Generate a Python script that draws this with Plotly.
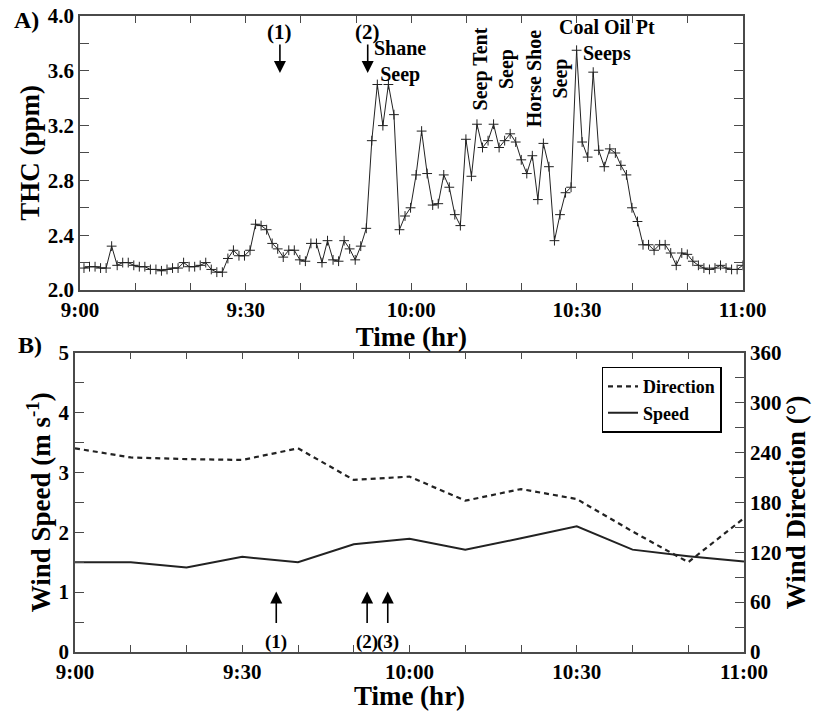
import pandas as pd
import plotly.graph_objects as go

# ---------------- data ----------------
thc_start = "2024-01-01 09:00:43"
thc_end = "2024-01-01 11:00:00"
thc_ppm = [
    2.16, 2.17, 2.17, 2.16, 2.16, 2.32, 2.18, 2.20, 2.20, 2.18,
    2.17, 2.17, 2.15, 2.15, 2.14, 2.15, 2.16, 2.16, 2.20, 2.17,
    2.17, 2.18, 2.20, 2.15, 2.13, 2.13, 2.23, 2.29, 2.25, 2.25,
    2.29, 2.48, 2.47, 2.44, 2.34, 2.30, 2.24, 2.29, 2.29, 2.22,
    2.21, 2.34, 2.34, 2.20, 2.36, 2.22, 2.21, 2.36, 2.30, 2.22,
    2.32, 2.45, 3.09, 3.50, 3.20, 3.50, 3.28, 2.44, 2.54, 2.60,
    2.84, 3.16, 2.85, 2.62, 2.63, 2.84, 2.75, 2.55, 2.47, 3.10,
    2.83, 3.21, 3.04, 3.09, 3.21, 3.04, 3.09, 3.14, 3.08, 2.95,
    2.85, 2.98, 2.66, 3.07, 2.90, 2.36, 2.55, 2.71, 2.75, 3.75,
    3.08, 2.97, 3.59, 3.02, 2.90, 3.03, 3.00, 2.91, 2.84, 2.60,
    2.50, 2.33, 2.33, 2.29, 2.33, 2.33, 2.27, 2.18, 2.27, 2.26,
    2.21, 2.18, 2.16, 2.15, 2.16, 2.18, 2.16, 2.15, 2.15, 2.18,
]
thc_time = pd.date_range(thc_start, thc_end, periods=len(thc_ppm))

wind_time = ["2024-01-01 09:00", "2024-01-01 09:10", "2024-01-01 09:20",
             "2024-01-01 09:30", "2024-01-01 09:40", "2024-01-01 09:50",
             "2024-01-01 10:00", "2024-01-01 10:10", "2024-01-01 10:20",
             "2024-01-01 10:30", "2024-01-01 10:40", "2024-01-01 10:50",
             "2024-01-01 11:00"]
wind_speed = [1.50, 1.50, 1.41, 1.59, 1.50, 1.80, 1.89, 1.71, 1.90, 2.10, 1.71, 1.60, 1.51]
wind_dir = [245, 234, 232, 231, 245, 207, 211, 182, 196, 184, 145, 108, 161]

seep_labels = ["Shane<br>Seep", "Seep Tent<br>Seep", "Horse Shoe<br>Seep", "Coal Oil Pt<br>Seeps"]
seep_x = ["2024-01-01 09:58:00", "2024-01-01 10:14:48", "2024-01-01 10:24:36", "2024-01-01 10:35:24"]
seep_y = [3.67, 3.61, 3.54, 3.82]
seep_angle = [0, -90, -90, 0]

top_marks = ["(1)", "(2)"]
top_mark_x = ["2024-01-01 09:36:12", "2024-01-01 09:52:06"]
bot_marks = ["(1)", "(2)", "(3)"]
bot_mark_x = ["2024-01-01 09:36:06", "2024-01-01 09:52:24", "2024-01-01 09:56:06"]

# ---------------- figure ----------------
FONT = "Liberation Serif"
AX = "#4a4a4a"

fig = go.Figure()
fig.add_trace(go.Scatter(
    x=thc_time, y=thc_ppm, mode="lines+markers", xaxis="x", yaxis="y",
    line=dict(color="#222", width=1),
    marker=dict(symbol="cross-thin", size=7, line=dict(color="#222", width=1)),
    showlegend=False))
fig.add_trace(go.Scatter(
    x=wind_time, y=wind_dir, mode="lines", name="Direction", xaxis="x2", yaxis="y3",
    line=dict(color="#222", width=2.2, dash="5px,4px")))
fig.add_trace(go.Scatter(
    x=wind_time, y=wind_speed, mode="lines", name="Speed", xaxis="x2", yaxis="y2",
    line=dict(color="#222", width=2)))

tickfont = dict(family=FONT, size=21, color="black", weight="bold")
titlefont = dict(family=FONT, size=27, color="black", weight="bold")

common_x = dict(
    type="date", range=["2024-01-01 09:00", "2024-01-01 11:00"],
    tick0="2024-01-01 09:00", dtick=1800000, tickformat="%-H:%M",
    ticks="inside", ticklen=7, tickwidth=1.2, tickcolor=AX,
    minor=dict(dtick=600000, ticks="inside", ticklen=7, tickwidth=1.2, tickcolor=AX),
    showline=True, linecolor=AX, linewidth=1.5, mirror="ticks",
    showgrid=False, zeroline=False, tickfont=tickfont, automargin=False,
)
common_y = dict(
    ticks="inside", ticklen=9, tickwidth=1.2, tickcolor=AX,
    showline=True, linecolor=AX, linewidth=1.5,
    showgrid=False, zeroline=False, tickfont=tickfont, automargin=False,
    ticklabeloverflow="allow",
)

fig.update_layout(
    width=813, height=711,
    margin=dict(l=75, r=69, t=16, b=59),
    paper_bgcolor="white", plot_bgcolor="white",
    font=dict(family=FONT, color="black", weight="bold"),
    xaxis=dict(common_x, domain=[0.0075, 0.998], anchor="y",
               title=dict(text="Time (hr)", font=titlefont, standoff=0)),
    yaxis=dict(common_y, domain=[0.5692, 1.0], anchor="x", range=[2.0, 4.0], dtick=0.4, tick0=2.0,
               tickformat=".1f", mirror="ticks",
               minor=dict(dtick=0.2, ticks="inside", ticklen=9, tickwidth=1.2, tickcolor=AX),
               title=dict(text="THC (ppm)", font=titlefont, standoff=0)),
    xaxis2=dict(common_x, domain=[0.0, 1.0], anchor="y2",
                title=dict(text="Time (hr)", font=titlefont, standoff=0)),
    yaxis2=dict(common_y, domain=[0.0, 0.4706], anchor="x2", range=[0, 5], dtick=1,
                minor=dict(dtick=0.5, ticks="inside", ticklen=9, tickwidth=1.2, tickcolor=AX),
                title=dict(text="Wind Speed (m s<sup>-1</sup>)", font=titlefont, standoff=0)),
    yaxis3=dict(common_y, overlaying="y2", side="right", anchor="x2", range=[0, 360], dtick=60,
                minor=dict(dtick=30, ticks="inside", ticklen=9, tickwidth=1.2, tickcolor=AX),
                title=dict(text="Wind Direction (°)", font=titlefont, standoff=0)),
    legend=dict(x=0.787, y=0.4486, xanchor="left", yanchor="top",
                bgcolor="white", bordercolor="black", borderwidth=1.5,
                font=dict(family=FONT, size=18, color="black", weight="bold"),
                itemwidth=30, tracegroupgap=0),
)

ann = []
for t, x, y, a in zip(seep_labels, seep_x, seep_y, seep_angle):
    ann.append(dict(text=t, x=x, y=y, xref="x", yref="y", showarrow=False,
                    textangle=a, xanchor="center", yanchor="middle",
                    font=dict(family=FONT, size=20, color="black", weight="bold")))
for t, x in zip(top_marks, top_mark_x):
    ann.append(dict(text="", x=x, y=3.584, xref="x", yref="y", showarrow=True,
                    ax=0, ay=-30, arrowhead=2, arrowsize=1.5, arrowwidth=1.6, arrowcolor="black"))
    ann.append(dict(text=t, x=x, y=3.88, xref="x", yref="y", showarrow=False,
                    font=dict(family=FONT, size=21, color="black", weight="bold")))
for t, x in zip(bot_marks, bot_mark_x):
    ann.append(dict(text="", x=x, y=1.01, xref="x2", yref="y2", showarrow=True,
                    ax=0, ay=33, arrowhead=2, arrowsize=1.5, arrowwidth=1.6, arrowcolor="black"))
    ann.append(dict(text=t, x=x, y=0.17, xref="x2", yref="y2", showarrow=False,
                    font=dict(family=FONT, size=19, color="black", weight="bold")))
ann.append(dict(text="A)", x=-0.073, y=0.9937, xref="paper", yref="paper", showarrow=False,
                xanchor="center", yanchor="middle",
                font=dict(family=FONT, size=24, color="black", weight="bold")))
ann.append(dict(text="B)", x=-0.067, y=0.4827, xref="paper", yref="paper", showarrow=False,
                xanchor="center", yanchor="middle",
                font=dict(family=FONT, size=24, color="black", weight="bold")))
fig.update_layout(annotations=ann)

# remove the browser's default 8px body margin so the figure fills the window
fig.write_html("out.html", config={"displayModeBar": False},
               post_script="document.body.style.margin='0px';")
